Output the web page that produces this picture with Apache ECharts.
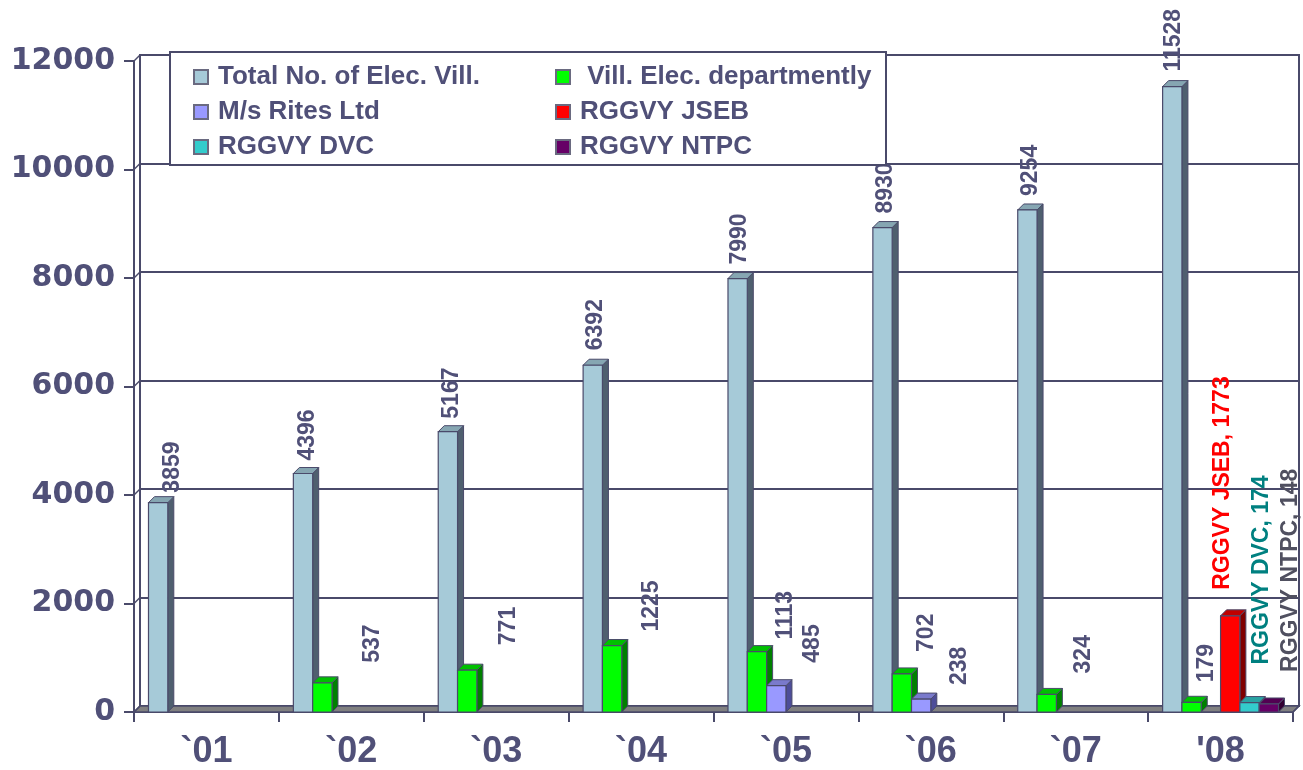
<!DOCTYPE html>
<html>
<head>
<meta charset="utf-8">
<script src="https://cdn.jsdelivr.net/npm/echarts@6/dist/echarts.min.js"></script>
<style>
html,body{margin:0;padding:0;background:#fff;}
#chart{width:1303px;height:770px;}
</style>
</head>
<body>
<div id="chart"></div>
<script>
// ---- data ----
const categories = ['`01', '`02', '`03', '`04', '`05', '`06', '`07', "'08"];
const seriesNames = ['Total No. of Elec. Vill.', 'Vill. Elec. departmently', 'M/s Rites Ltd', 'RGGVY JSEB', 'RGGVY DVC', 'RGGVY NTPC'];
const totalVill   = [3859, 4396, 5167, 6392, 7990, 8930, 9254, 11528];
const villElecDept = [null, 537, 771, 1225, 1113, 702, 324, 179];
const ritesLtd    = [null, null, null, null, 485, 238, null, null];
const rggvyJseb   = [null, null, null, null, null, null, null, 1773];
const rggvyDvc    = [null, null, null, null, null, null, null, 174];
const rggvyNtpc   = [null, null, null, null, null, null, null, 148];
const yTicks = [0, 2000, 4000, 6000, 8000, 10000, 12000];

// ---- label placement nudges (pixels: [dx from bar centre, dy above bar front top]) ----
const totalLabelShift = [[15,10],[5,13],[4,13],[3,15],[2,14],[3,14],[3,14],[1,15]];
const greenLabelShift = [null,[50,20],[41,25],[40,14],[29,12],[25,22],[37,21],[15,20]];
const ritesLabelShift = [null,null,null,null,[36,23],[39,14],null,null];
const jsebLabelShift  = [null,null,null,null,null,null,null,[-8,26]];
const dvcLabelShift   = [null,null,null,null,null,null,null,[12,38]];
const ntpcLabelShift  = [null,null,null,null,null,null,null,[22,32]];

// ---- styles ----
const TXT = '#505078';
const EDGE = '#4a4a6a';
const DEPTH = 6;
const styles = [
  {front:'#A6CAD8', side:'#4F5F6F', top:'#86A6B2', label:TXT,      withName:false, shift: totalLabelShift},
  {front:'#00FF00', side:'#008000', top:'#00C000', label:TXT,      withName:false, shift: greenLabelShift},
  {front:'#9999FF', side:'#4D4D99', top:'#7A7ACC', label:TXT,      withName:false, shift: ritesLabelShift},
  {front:'#FF0000', side:'#800000', top:'#C00000', label:'#FF0000',withName:true,  shift: jsebLabelShift},
  {front:'#33CCCC', side:'#1A6666', top:'#29A3A3', label:'#008080',withName:true,  shift: dvcLabelShift},
  {front:'#660066', side:'#330033', top:'#520052', label:'#505060',withName:true,  shift: ntpcLabelShift}
];
const allValues = [totalVill, villElecDept, ritesLtd, rggvyJseb, rggvyDvc, rggvyNtpc];
const N = allValues.length;

function toData(arr){
  const out = [];
  arr.forEach((v,i)=>{ if (v !== null && v !== undefined) out.push([i, v]); });
  return out;
}

function barRenderer(si){
  const st = styles[si];
  return function(params, api){
    const cat = api.value(0), val = api.value(1);
    const base = api.coord([cat, 0]);
    const top = api.coord([cat, val]);
    const band = api.size([1, 0])[0];
    const gap = band * 0.1;
    const bw = (band - 2*gap) / N;
    const x0 = base[0] - band/2 + gap + si*bw;
    const x1 = x0 + bw;
    const yb = base[1], yt = top[1], d = DEPTH;
    const children = [
      {type:'polygon', shape:{points:[[x1,yt],[x1+d,yt-d],[x1+d,yb-d],[x1,yb]]},
        style:{fill:st.side, stroke:EDGE, lineWidth:1}},
      {type:'polygon', shape:{points:[[x0,yt],[x0+d,yt-d],[x1+d,yt-d],[x1,yt]]},
        style:{fill:st.top, stroke:EDGE, lineWidth:1}},
      {type:'rect', shape:{x:x0, y:yt, width:bw, height:yb-yt},
        style:{fill:st.front, stroke:EDGE, lineWidth:1.2}}
    ];
    const sh = st.shift[cat] || [4, 13];
    const txt = st.withName ? (seriesNames[si] + ', ' + val) : String(val);
    children.push({
      type:'text', x: (x0 + x1)/2 + sh[0], y: yt - sh[1], rotation: Math.PI/2,
      style:{text: txt, x:0, y:0, fill: st.label, align:'left', verticalAlign:'middle',
        font:'bold 23px "Liberation Sans", Arial, sans-serif'}
    });
    return {type:'group', children: children};
  };
}

function floorRenderer(params, api){
  const cs = params.coordSys;
  const d = DEPTH;
  const xL = cs.x, xR = cs.x + cs.width, yB = cs.y + cs.height;
  const children = [
    {type:'polygon', shape:{points:[[xL,yB],[xL+d,yB-d],[xR+d,yB-d],[xR,yB]]},
      style:{fill:'#808080', stroke:EDGE, lineWidth:1.5}}
  ];
  yTicks.forEach(v=>{
    const y = api.coord([0, v])[1];
    children.push({type:'line', shape:{x1:xL, y1:y, x2:xL+d, y2:y-d},
      style:{stroke:EDGE, lineWidth:1.5}});
  });
  children.push({type:'line', shape:{x1:xR, y1:yB, x2:xR+d, y2:yB-d}, style:{stroke:EDGE, lineWidth:1.5}});
  return {type:'group', children: children};
}

const series = [
  {type:'custom', name:'floor', xAxisIndex:1, yAxisIndex:1, silent:true, z:1,
   renderItem: floorRenderer, data:[[0,0]]}
];
allValues.forEach((arr, si)=>{
  series.push({
    type:'custom', name: seriesNames[si], xAxisIndex:1, yAxisIndex:1, z: 2 + si,
    itemStyle:{color: styles[si].front, borderColor:'#6a6a80', borderWidth:1},
    renderItem: barRenderer(si),
    encode:{x:0, y:1},
    data: toData(arr)
  });
});

const legendText = {fontSize:26, fontWeight:'bold', fontFamily:'"Liberation Sans", Arial, sans-serif', color:TXT, lineHeight:26, padding:[0,0,0,5]};

const option = {
  animation:false,
  backgroundColor:'#fff',
  grid:[
    {left:140, right:4, top:55, bottom:64, show:true, borderColor:EDGE, borderWidth:2, backgroundColor:'transparent'},
    {left:134, right:10, top:61, bottom:58}
  ],
  xAxis:[
    {type:'category', gridIndex:0, data:categories, show:false},
    {type:'category', gridIndex:1, data:categories,
     axisLine:{show:true, lineStyle:{color:EDGE, width:2}},
     axisTick:{show:true, length:10, lineStyle:{color:EDGE, width:2}},
     axisLabel:{fontSize:36, fontWeight:'bold', fontFamily:'"Liberation Sans", Arial, sans-serif', color:TXT, margin:22},
     splitLine:{show:false}}
  ],
  yAxis:[
    {type:'value', gridIndex:0, min:0, max:12000, interval:2000,
     axisLine:{show:false}, axisTick:{show:false}, axisLabel:{show:false},
     splitLine:{show:true, lineStyle:{color:EDGE, width:2}}},
    {type:'value', gridIndex:1, min:0, max:12000, interval:2000,
     axisLine:{show:true, lineStyle:{color:EDGE, width:2}},
     axisTick:{show:true, length:10, lineStyle:{color:EDGE, width:2}},
     axisLabel:{fontSize:30, fontWeight:'bold', fontFamily:'"DejaVu Sans", Verdana, sans-serif', color:TXT, margin:19, padding:[0,0,8,0],
       formatter: v => String(v)},
     splitLine:{show:false}}
  ],
  graphic:[
    {type:'rect', z:3, shape:{x:170, y:52, width:716, height:113},
     style:{fill:'#fff', stroke:EDGE, lineWidth:2}}
  ],
  legend:[
    {orient:'vertical', left:188, top:59, itemWidth:14, itemHeight:14, itemGap:9, icon:'rect',
     data:[seriesNames[0], seriesNames[2], seriesNames[4]], textStyle:legendText, selectedMode:false},
    {orient:'vertical', left:550, top:59, itemWidth:14, itemHeight:14, itemGap:9, icon:'rect',
     data:[seriesNames[1], seriesNames[3], seriesNames[5]], textStyle:legendText, selectedMode:false,
     formatter: n => n === seriesNames[1] ? ' ' + n : n}
  ],
  series: series
};

const chart = echarts.init(document.getElementById('chart'), null, {renderer:'canvas'});
chart.setOption(option);
</script>
</body>
</html>
